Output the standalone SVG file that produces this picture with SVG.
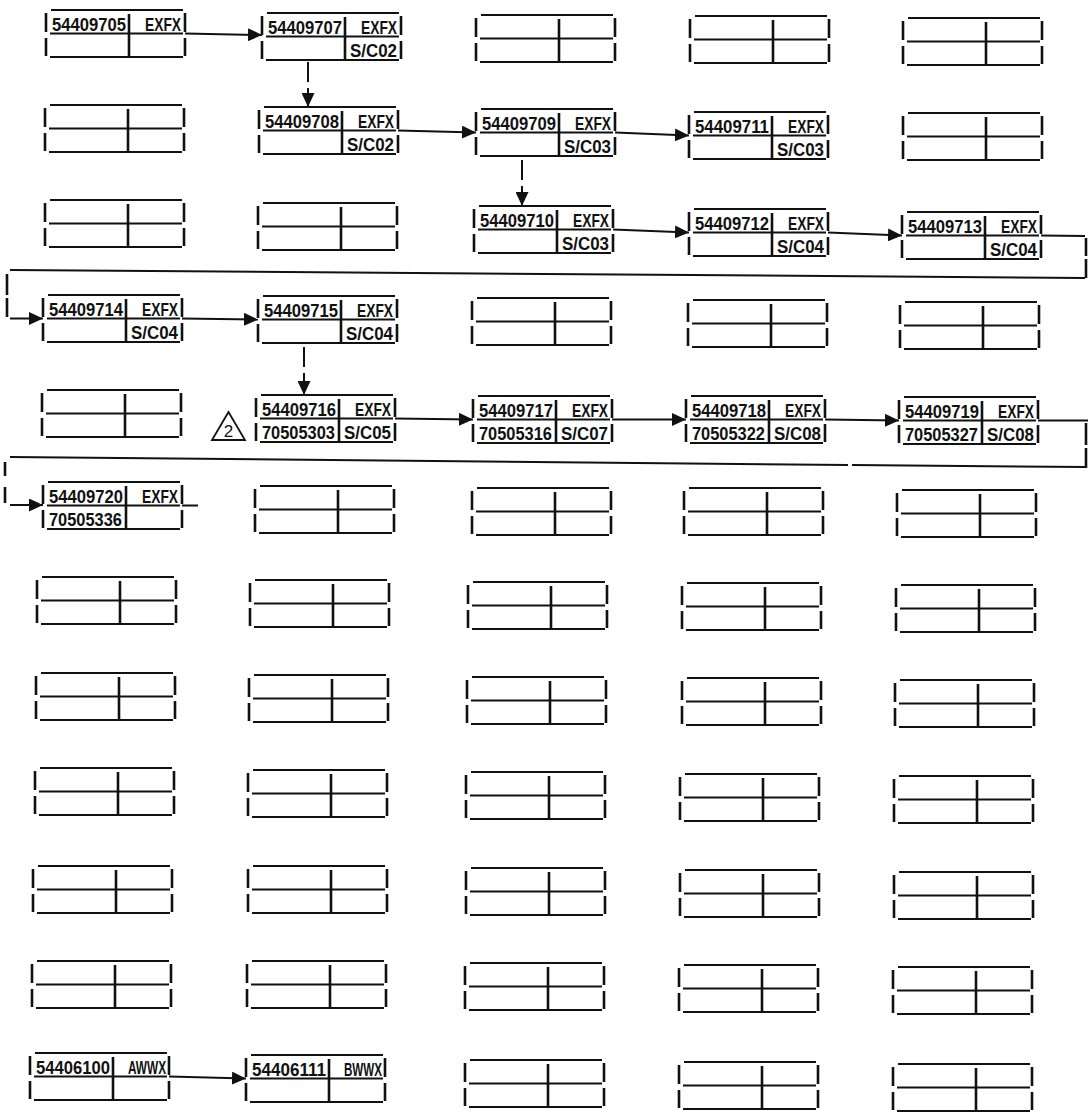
<svg xmlns="http://www.w3.org/2000/svg" xmlns:xlink="http://www.w3.org/1999/xlink" width="1088" height="1118" viewBox="0 0 1088 1118">
<style>
.h{stroke:#111;stroke-width:2;fill:none}
.v{stroke:#111;stroke-width:2.6;fill:none}
.c{stroke:#111;stroke-width:2;fill:none}
.t{font-family:"Liberation Sans",Arial,sans-serif;font-size:19px;font-weight:bold;fill:#111}
.tri{stroke:#111;stroke-width:1.8;fill:none}
.tn{font-family:"Liberation Sans",Arial,sans-serif;font-size:17px;fill:#111}
</style>
<defs>
<marker id="ah" markerWidth="14" markerHeight="13" refX="14" refY="6.5" orient="auto" markerUnits="userSpaceOnUse"><path d="M0,0 L14,6.5 L0,13 z" fill="#111"/></marker>
<g id="box">
<path class="h" d="M5,0 H137 M4,23.5 H137 M4,47 H137"/>
<path class="v" d="M0,3 V22 M0,28 V46 M139,3 V22 M139,28 V46 M83,4 V23.5 M83,23.5 V47"/>
</g>
</defs>
<rect width="1088" height="1118" fill="#fff"/>
<g id="connectors">
<path class="c" marker-end="url(#ah)" d="M185,33.5 L262,35"/>
<path class="c" d="M308,62 V82"/>
<path class="c" marker-end="url(#ah)" d="M308,88 V107"/>
<path class="c" marker-end="url(#ah)" d="M398,130.5 L476,132.5"/>
<path class="c" marker-end="url(#ah)" d="M615,132.5 L689,135.5"/>
<path class="c" d="M522,160 V180"/>
<path class="c" marker-end="url(#ah)" d="M522,186 V206"/>
<path class="c" marker-end="url(#ah)" d="M613,229.5 L689,232.5"/>
<path class="c" marker-end="url(#ah)" d="M828,232.5 L902,235.5"/>
<path class="c" d="M1041,235.5 L1085,236"/>
<path class="v" d="M1086,238 V256 M1086,259 V278 M7,274 V295 M7,298 V317"/>
<path class="c" d="M10,270 L1085,278"/>
<path class="c" marker-end="url(#ah)" d="M10,318.5 L43,318.5"/>
<path class="c" marker-end="url(#ah)" d="M182,318.5 L258,319.5"/>
<path class="c" d="M304,347 V367"/>
<path class="c" marker-end="url(#ah)" d="M304,373 V395"/>
<path class="c" marker-end="url(#ah)" d="M395,418.5 L473,419.5"/>
<path class="c" marker-end="url(#ah)" d="M612,419.5 L686,419.5"/>
<path class="c" marker-end="url(#ah)" d="M825,419.5 L899,420.5"/>
<path class="c" d="M1038,420.5 L1088,420.5"/>
<path class="v" d="M1086,423 V445 M1086,448 V468 M5,462 V476 M5,487 V503"/>
<path class="c" d="M10,457 L848,465 M852,465 L1087,467"/>
<path class="c" marker-end="url(#ah)" d="M10,505 L43,505"/>
<path class="c" d="M182,505.5 L198,505.5"/>
<path class="c" marker-end="url(#ah)" d="M169,1076.5 L246,1078.5"/>
</g>
<g id="note-2">
<polygon class="tri" points="228.5,412 212,440 245,440"/>
<text class="tn" x="228.5" y="437" text-anchor="middle">2</text>
</g>
<!-- row 1 -->
<g id="n-r1c1" transform="translate(46,10)"><use xlink:href="#box"/><text class="t" x="6" y="21" textLength="74" lengthAdjust="spacingAndGlyphs">54409705</text><text class="t" x="99" y="21" textLength="36" lengthAdjust="spacingAndGlyphs">EXFX</text></g>
<g id="n-r1c2" transform="translate(262,13)"><use xlink:href="#box"/><text class="t" x="6" y="21" textLength="74" lengthAdjust="spacingAndGlyphs">54409707</text><text class="t" x="99" y="21" textLength="36" lengthAdjust="spacingAndGlyphs">EXFX</text><text class="t" x="88" y="44" textLength="47" lengthAdjust="spacingAndGlyphs">S/C02</text></g>
<g id="n-r1c3" transform="translate(476,15)"><use xlink:href="#box"/></g>
<g id="n-r1c4" transform="translate(690,16)"><use xlink:href="#box"/></g>
<g id="n-r1c5" transform="translate(903,18)"><use xlink:href="#box"/></g>
<!-- row 2 -->
<g id="n-r2c1" transform="translate(45,105)"><use xlink:href="#box"/></g>
<g id="n-r2c2" transform="translate(259,107)"><use xlink:href="#box"/><text class="t" x="6" y="21" textLength="74" lengthAdjust="spacingAndGlyphs">54409708</text><text class="t" x="99" y="21" textLength="36" lengthAdjust="spacingAndGlyphs">EXFX</text><text class="t" x="88" y="44" textLength="47" lengthAdjust="spacingAndGlyphs">S/C02</text></g>
<g id="n-r2c3" transform="translate(476,109)"><use xlink:href="#box"/><text class="t" x="6" y="21" textLength="74" lengthAdjust="spacingAndGlyphs">54409709</text><text class="t" x="99" y="21" textLength="36" lengthAdjust="spacingAndGlyphs">EXFX</text><text class="t" x="88" y="44" textLength="47" lengthAdjust="spacingAndGlyphs">S/C03</text></g>
<g id="n-r2c4" transform="translate(689,112)"><use xlink:href="#box"/><text class="t" x="6" y="21" textLength="74" lengthAdjust="spacingAndGlyphs">54409711</text><text class="t" x="99" y="21" textLength="36" lengthAdjust="spacingAndGlyphs">EXFX</text><text class="t" x="88" y="44" textLength="47" lengthAdjust="spacingAndGlyphs">S/C03</text></g>
<g id="n-r2c5" transform="translate(903,113)"><use xlink:href="#box"/></g>
<!-- row 3 -->
<g id="n-r3c1" transform="translate(45,200)"><use xlink:href="#box"/></g>
<g id="n-r3c2" transform="translate(258,203)"><use xlink:href="#box"/></g>
<g id="n-r3c3" transform="translate(474,206)"><use xlink:href="#box"/><text class="t" x="6" y="21" textLength="74" lengthAdjust="spacingAndGlyphs">54409710</text><text class="t" x="99" y="21" textLength="36" lengthAdjust="spacingAndGlyphs">EXFX</text><text class="t" x="88" y="44" textLength="47" lengthAdjust="spacingAndGlyphs">S/C03</text></g>
<g id="n-r3c4" transform="translate(689,209)"><use xlink:href="#box"/><text class="t" x="6" y="21" textLength="74" lengthAdjust="spacingAndGlyphs">54409712</text><text class="t" x="99" y="21" textLength="36" lengthAdjust="spacingAndGlyphs">EXFX</text><text class="t" x="88" y="44" textLength="47" lengthAdjust="spacingAndGlyphs">S/C04</text></g>
<g id="n-r3c5" transform="translate(902,212)"><use xlink:href="#box"/><text class="t" x="6" y="21" textLength="74" lengthAdjust="spacingAndGlyphs">54409713</text><text class="t" x="99" y="21" textLength="36" lengthAdjust="spacingAndGlyphs">EXFX</text><text class="t" x="88" y="44" textLength="47" lengthAdjust="spacingAndGlyphs">S/C04</text></g>
<!-- row 4 -->
<g id="n-r4c1" transform="translate(43,295)"><use xlink:href="#box"/><text class="t" x="6" y="21" textLength="74" lengthAdjust="spacingAndGlyphs">54409714</text><text class="t" x="99" y="21" textLength="36" lengthAdjust="spacingAndGlyphs">EXFX</text><text class="t" x="88" y="44" textLength="47" lengthAdjust="spacingAndGlyphs">S/C04</text></g>
<g id="n-r4c2" transform="translate(258,296)"><use xlink:href="#box"/><text class="t" x="6" y="21" textLength="74" lengthAdjust="spacingAndGlyphs">54409715</text><text class="t" x="99" y="21" textLength="36" lengthAdjust="spacingAndGlyphs">EXFX</text><text class="t" x="88" y="44" textLength="47" lengthAdjust="spacingAndGlyphs">S/C04</text></g>
<g id="n-r4c3" transform="translate(472,298)"><use xlink:href="#box"/></g>
<g id="n-r4c4" transform="translate(688,300)"><use xlink:href="#box"/></g>
<g id="n-r4c5" transform="translate(900,302)"><use xlink:href="#box"/></g>
<!-- row 5 -->
<g id="n-r5c1" transform="translate(42,390)"><use xlink:href="#box"/></g>
<g id="n-r5c2" transform="translate(256,395)"><use xlink:href="#box"/><text class="t" x="6" y="21" textLength="74" lengthAdjust="spacingAndGlyphs">54409716</text><text class="t" x="99" y="21" textLength="36" lengthAdjust="spacingAndGlyphs">EXFX</text><text class="t" x="6" y="44" textLength="73" lengthAdjust="spacingAndGlyphs">70505303</text><text class="t" x="88" y="44" textLength="47" lengthAdjust="spacingAndGlyphs">S/C05</text></g>
<g id="n-r5c3" transform="translate(473,396)"><use xlink:href="#box"/><text class="t" x="6" y="21" textLength="74" lengthAdjust="spacingAndGlyphs">54409717</text><text class="t" x="99" y="21" textLength="36" lengthAdjust="spacingAndGlyphs">EXFX</text><text class="t" x="6" y="44" textLength="73" lengthAdjust="spacingAndGlyphs">70505316</text><text class="t" x="88" y="44" textLength="47" lengthAdjust="spacingAndGlyphs">S/C07</text></g>
<g id="n-r5c4" transform="translate(686,396)"><use xlink:href="#box"/><text class="t" x="6" y="21" textLength="74" lengthAdjust="spacingAndGlyphs">54409718</text><text class="t" x="99" y="21" textLength="36" lengthAdjust="spacingAndGlyphs">EXFX</text><text class="t" x="6" y="44" textLength="73" lengthAdjust="spacingAndGlyphs">70505322</text><text class="t" x="88" y="44" textLength="47" lengthAdjust="spacingAndGlyphs">S/C08</text></g>
<g id="n-r5c5" transform="translate(899,397)"><use xlink:href="#box"/><text class="t" x="6" y="21" textLength="74" lengthAdjust="spacingAndGlyphs">54409719</text><text class="t" x="99" y="21" textLength="36" lengthAdjust="spacingAndGlyphs">EXFX</text><text class="t" x="6" y="44" textLength="73" lengthAdjust="spacingAndGlyphs">70505327</text><text class="t" x="88" y="44" textLength="47" lengthAdjust="spacingAndGlyphs">S/C08</text></g>
<!-- row 6 -->
<g id="n-r6c1" transform="translate(43,482)"><use xlink:href="#box"/><text class="t" x="6" y="21" textLength="74" lengthAdjust="spacingAndGlyphs">54409720</text><text class="t" x="99" y="21" textLength="36" lengthAdjust="spacingAndGlyphs">EXFX</text><text class="t" x="6" y="44" textLength="73" lengthAdjust="spacingAndGlyphs">70505336</text></g>
<g id="n-r6c2" transform="translate(255,486)"><use xlink:href="#box"/></g>
<g id="n-r6c3" transform="translate(472,488)"><use xlink:href="#box"/></g>
<g id="n-r6c4" transform="translate(684,488)"><use xlink:href="#box"/></g>
<g id="n-r6c5" transform="translate(897,490)"><use xlink:href="#box"/></g>
<!-- row 7 -->
<g id="n-r7c1" transform="translate(37,577)"><use xlink:href="#box"/></g>
<g id="n-r7c2" transform="translate(250,580)"><use xlink:href="#box"/></g>
<g id="n-r7c3" transform="translate(468,582)"><use xlink:href="#box"/></g>
<g id="n-r7c4" transform="translate(682,583)"><use xlink:href="#box"/></g>
<g id="n-r7c5" transform="translate(896,585)"><use xlink:href="#box"/></g>
<!-- row 8 -->
<g id="n-r8c1" transform="translate(36,673)"><use xlink:href="#box"/></g>
<g id="n-r8c2" transform="translate(249,675)"><use xlink:href="#box"/></g>
<g id="n-r8c3" transform="translate(467,677)"><use xlink:href="#box"/></g>
<g id="n-r8c4" transform="translate(682,678)"><use xlink:href="#box"/></g>
<g id="n-r8c5" transform="translate(895,680)"><use xlink:href="#box"/></g>
<!-- row 9 -->
<g id="n-r9c1" transform="translate(35,768)"><use xlink:href="#box"/></g>
<g id="n-r9c2" transform="translate(248,770)"><use xlink:href="#box"/></g>
<g id="n-r9c3" transform="translate(466,772)"><use xlink:href="#box"/></g>
<g id="n-r9c4" transform="translate(680,774)"><use xlink:href="#box"/></g>
<g id="n-r9c5" transform="translate(894,776)"><use xlink:href="#box"/></g>
<!-- row 10 -->
<g id="n-r10c1" transform="translate(33,866)"><use xlink:href="#box"/></g>
<g id="n-r10c2" transform="translate(248,866)"><use xlink:href="#box"/></g>
<g id="n-r10c3" transform="translate(466,868)"><use xlink:href="#box"/></g>
<g id="n-r10c4" transform="translate(680,870)"><use xlink:href="#box"/></g>
<g id="n-r10c5" transform="translate(894,872)"><use xlink:href="#box"/></g>
<!-- row 11 -->
<g id="n-r11c1" transform="translate(32,961)"><use xlink:href="#box"/></g>
<g id="n-r11c2" transform="translate(247,961)"><use xlink:href="#box"/></g>
<g id="n-r11c3" transform="translate(465,963)"><use xlink:href="#box"/></g>
<g id="n-r11c4" transform="translate(679,965)"><use xlink:href="#box"/></g>
<g id="n-r11c5" transform="translate(893,967)"><use xlink:href="#box"/></g>
<!-- row 12 -->
<g id="n-r12c1" transform="translate(30,1053)"><use xlink:href="#box"/><text class="t" x="6" y="21" textLength="74" lengthAdjust="spacingAndGlyphs">54406100</text><text class="t" x="98" y="21" textLength="38" lengthAdjust="spacingAndGlyphs">AWWX</text></g>
<g id="n-r12c2" transform="translate(246,1055)"><use xlink:href="#box"/><text class="t" x="6" y="21" textLength="74" lengthAdjust="spacingAndGlyphs">54406111</text><text class="t" x="98" y="21" textLength="38" lengthAdjust="spacingAndGlyphs">BWWX</text></g>
<g id="n-r12c3" transform="translate(465,1060)"><use xlink:href="#box"/></g>
<g id="n-r12c4" transform="translate(679,1062)"><use xlink:href="#box"/></g>
<g id="n-r12c5" transform="translate(893,1064)"><use xlink:href="#box"/></g>
</svg>
